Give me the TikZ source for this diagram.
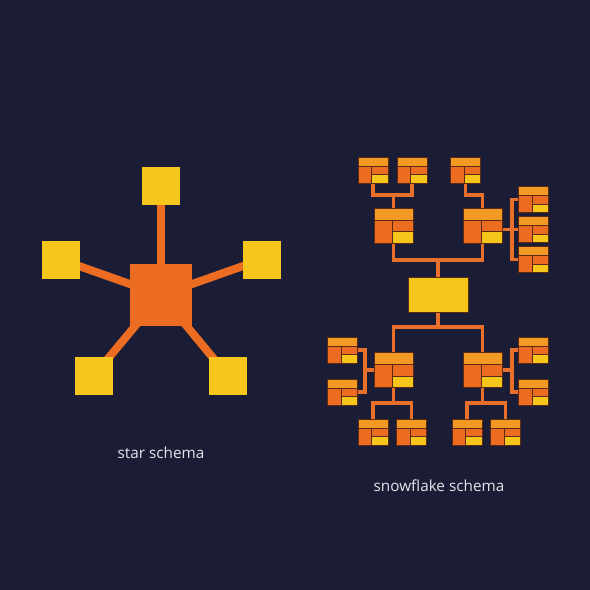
\documentclass[tikz,border=0pt]{standalone}
\usepackage{fontspec}
\setmainfont{Open Sans}
\usetikzlibrary{calc}
\definecolor{bgc}{HTML}{1B1C35}
\definecolor{ylw}{HTML}{F5C61C}
\definecolor{org}{HTML}{EC6D22}
\definecolor{lorg}{HTML}{F39A24}
\definecolor{lnc}{HTML}{E8702A}
\definecolor{txt}{HTML}{E4E4E8}
\definecolor{edge}{HTML}{5A2A14}
\pgfdeclarelayer{bglayer}
\pgfdeclarelayer{linklayer}
\pgfsetlayers{bglayer,linklayer,main}
\tikzset{
  x=1pt, y=-1pt,
  sq/.style={rectangle, inner sep=0pt, fill=ylw, minimum width=38pt, minimum height=38pt},
  hub/.style={rectangle, inner sep=0pt, fill=org, minimum width=62pt, minimum height=62pt},
  spoke/.style={draw=org, line width=8pt},
  link/.style={draw=lnc, line width=3.5pt},
  cell/.style={draw=edge, line width=0.7pt},
  fact/.style={rectangle, inner sep=0pt, minimum width=60pt, minimum height=35pt, fill=ylw, draw=edge, line width=0.7pt},
  tbl/.style={rectangle, inner sep=0pt, minimum width=#1, fill=org, draw=edge, line width=0.7pt,
    path picture={
      \coordinate (nw) at (path picture bounding box.north west);
      \coordinate (se) at (path picture bounding box.south east);
      \coordinate (ka) at ($(nw)!0.35!(se)$);
      \coordinate (kb) at ($(nw)!0.46!(se)$);
      \coordinate (kc) at ($(nw)!0.68!(se)$);
      \filldraw[cell, fill=lorg] (nw) rectangle (ka -| se);
      \filldraw[cell, fill=org] (nw |- ka) rectangle (kb |- se);
      \filldraw[cell, fill=org] (kb |- ka) rectangle (kc -| se);
      \filldraw[cell, fill=ylw] (kb |- kc) rectangle (se);
    }},
  smt/.style={tbl=30pt, minimum height=26pt},
  mdt/.style={tbl=39pt, minimum height=35pt},
  lbl/.style={text=txt, font=\fontsize{15.3}{17}\selectfont, inner sep=0pt},
}
\begin{document}
\begin{tikzpicture}
\begin{pgfonlayer}{bglayer}
\fill[bgc] (0,0) rectangle (590,590);
\end{pgfonlayer}
\useasboundingbox (0,0) rectangle (590,590);

% ---------- star schema ----------
\node[hub] (c) at (161,295) {};
\node[sq] (s1) at (161,186) {};
\node[sq] (s2) at (60.5,259.5) {};
\node[sq] (s3) at (261.5,259.5) {};
\node[sq] (s4) at (93.5,376) {};
\node[sq] (s5) at (228,376) {};
\begin{pgfonlayer}{linklayer}
\draw[spoke] (c.center) -- (s1.center);
\draw[spoke] (c.center) -- (s2.center);
\draw[spoke] (c.center) -- (s3.center);
\draw[spoke] (c.center) -- (s4.center);
\draw[spoke] (c.center) -- (s5.center);
\end{pgfonlayer}
\node[lbl] (lstar) at (161,453) {star schema};

% ---------- snowflake schema ----------
\node[smt] (a1) at (373,170) {};
\node[smt] (a2) at (412,170) {};
\node[smt] (a3) at (465.5,170) {};
\node[mdt] (m1) at (393.5,225.5) {};
\node[mdt] (m2) at (482.5,225.5) {};
\node[smt] (r1) at (533.5,199.5) {};
\node[smt] (r2) at (533.5,229.5) {};
\node[smt] (r3) at (533.5,259.5) {};
\node[fact] (f) at (438,294.5) {};
\node[mdt] (m3) at (393.5,370) {};
\node[mdt] (m4) at (482.5,370) {};
\node[smt] (l1) at (342.5,350) {};
\node[smt] (l2) at (342.5,392) {};
\node[smt] (q1) at (533.5,350) {};
\node[smt] (q2) at (533.5,392) {};
\node[smt] (b1) at (373,432) {};
\node[smt] (b2) at (411.5,432) {};
\node[smt] (b3) at (467,432) {};
\node[smt] (b4) at (505.5,432) {};

\coordinate (j1) at (393.5,195);
\coordinate (j2) at (482.5,195);
\coordinate (jt) at (438,260);
\coordinate (jb) at (438,327);
\coordinate (sr) at (512,229.5);
\coordinate (sl) at (365,370);
\coordinate (sq2) at (512,370);
\coordinate (jb1) at (393.5,403);
\coordinate (jb2) at (482.5,403);

\begin{pgfonlayer}{linklayer}
\draw[link] (a1.center) |- (j1) -| (a2.center);
\draw[link] (j1) -- (m1.center);
\draw[link] (a3.center) |- (j2) -- (m2.center);
\draw[link] (r1.center) -| (sr) |- (r3.center);
\draw[link] (m2.center |- sr) -- (r2.center);
\draw[link] (m1.center) |- (jt) -| (m2.center);
\draw[link] (jt) -- (f.center);
\draw[link] (m3.center) |- (jb) -| (m4.center);
\draw[link] (jb) -- (f.center);
\draw[link] (l1.center) -| (sl) |- (l2.center);
\draw[link] (sl) -- (m3.center);
\draw[link] (q1.center) -| (sq2) |- (q2.center);
\draw[link] (sq2) -- (m4.center);
\draw[link] (b1.center) |- (jb1) -| (b2.center);
\draw[link] (jb1) -- (m3.center);
\draw[link] (b3.center) |- (jb2) -| (b4.center);
\draw[link] (jb2) -- (m4.center);
\end{pgfonlayer}

\node[lbl] (lsnow) at (439,486) {snowflake schema};
\end{tikzpicture}
\end{document}
